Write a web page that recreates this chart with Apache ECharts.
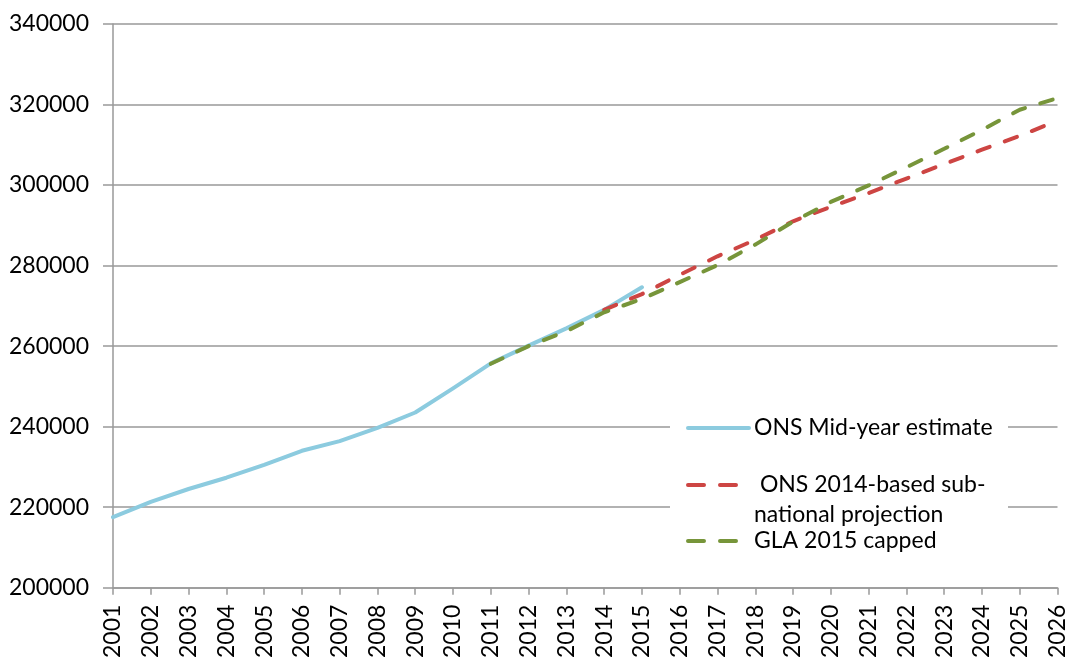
<!DOCTYPE html>
<html>
<head>
<meta charset="utf-8">
<script src="https://cdn.jsdelivr.net/npm/echarts@6/dist/echarts.min.js"></script>
<style>
html,body{margin:0;padding:0;background:#fff;}
#chart{width:1069px;height:661px;}
</style>
</head>
<body>
<div id="chart"></div>
<script>
var years = ['2001','2002','2003','2004','2005','2006','2007','2008','2009','2010','2011','2012','2013','2014','2015','2016','2017','2018','2019','2020','2021','2022','2023','2024','2025','2026'];
var onsMidYear = [217500,221300,224500,227300,230500,234000,236400,239700,243500,249500,255700,260100,264400,269000,274600,null,null,null,null,null,null,null,null,null,null,null];
var ons2014 = [null,null,null,null,null,null,null,null,null,null,null,null,null,269000,272900,277700,282300,286400,291000,294600,298000,301600,305200,308800,312200,316000];
var gla2015 = [null,null,null,null,null,null,null,null,null,null,255600,260000,263700,268400,271700,275900,280100,285200,290900,295800,299900,304400,309000,313700,318700,321600];
var yTicks = {min:200000, max:340000, interval:20000};
var seriesNames = ['ONS Mid-year estimate','ONS 2014-based sub-national projection','GLA 2015 capped'];

var FONT = 'Lato';
var FS = 23;
var chart = echarts.init(document.getElementById('chart'), null, {renderer:'canvas'});
var legendText = {fontFamily:FONT, fontSize:FS, color:'#000', lineHeight:24};
var legendCommon = {left:686, padding:0, itemWidth:61, itemHeight:14, itemGap:0, z:5,
  itemStyle:{opacity:0}};
var solidIcon = {lineStyle:{width:4, cap:'round'}};
var dashIcon = {lineStyle:{width:4, cap:'round', type:[16,16]}};
chart.setOption({
  animation:false,
  backgroundColor:'#fff',
  grid:{left:113, right:11, top:24, bottom:68, containLabel:false},
  xAxis:{
    type:'category', data:years, boundaryGap:false,
    axisLine:{lineStyle:{color:'#999', width:1.5}},
    axisTick:{show:true, length:7, alignWithLabel:true, lineStyle:{color:'#999', width:1.5}},
    axisLabel:{rotate:90, margin:17, fontFamily:FONT, fontSize:FS, color:'#000', interval:0},
    splitLine:{show:false}
  },
  yAxis:{
    type:'value', min:yTicks.min, max:yTicks.max, interval:yTicks.interval,
    axisLine:{show:true, lineStyle:{color:'#999', width:1.5}},
    axisTick:{show:true, length:10, lineStyle:{color:'#999', width:1.5}},
    axisLabel:{margin:24, fontFamily:FONT, fontSize:FS, color:'#000', formatter:function(v){return String(v);}},
    splitLine:{show:true, lineStyle:{color:'#999', width:1.5}}
  },
  graphic:[{type:'rect', z:1, shape:{x:670, y:402, width:338, height:166}, style:{fill:'#fff'}}],
  legend:[
    Object.assign({top:416, data:[seriesNames[0]], textStyle:legendText}, legendCommon, solidIcon),
    Object.assign({data:[seriesNames[1]],
      formatter:function(){return ' \n ONS 2014-based sub-\nnational projection';},
      textStyle:{fontFamily:FONT, fontSize:FS, color:'#000', lineHeight:30}}, legendCommon, dashIcon, {top:440}),
    Object.assign({top:529, data:[seriesNames[2]], textStyle:legendText}, legendCommon, dashIcon)
  ],
  series:[
    {name:seriesNames[0], type:'line', data:onsMidYear, showSymbol:false, symbol:'none', connectNulls:false,
      lineStyle:{color:'#8ccbdf', width:4, cap:'round', join:'round'}, itemStyle:{color:'#8ccbdf'}, z:2},
    {name:seriesNames[1], type:'line', data:ons2014, showSymbol:false, symbol:'none',
      lineStyle:{color:'#cd4543', width:4, type:[13,16], cap:'round'}, itemStyle:{color:'#cd4543'}, z:3},
    {name:seriesNames[2], type:'line', data:gla2015, showSymbol:false, symbol:'none',
      lineStyle:{color:'#77953a', width:4, type:[13,16], cap:'round'}, itemStyle:{color:'#77953a'}, z:4}
  ]
});
</script>
</body>
</html>
